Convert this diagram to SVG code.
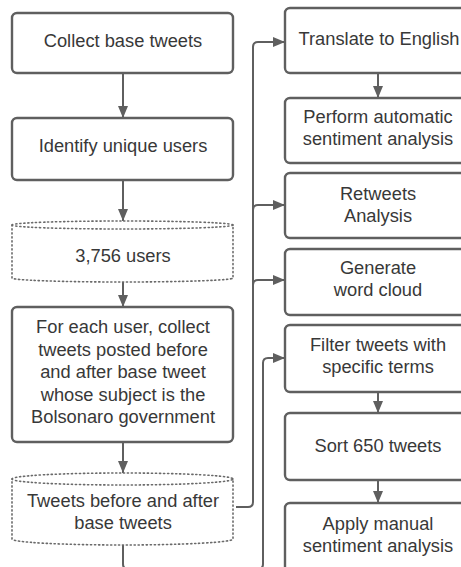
<svg xmlns="http://www.w3.org/2000/svg" width="461" height="567" viewBox="0 0 461 567">
<defs>
<style>
.box{fill:#fff;stroke:#5f5f5f;stroke-width:2.4}
.cyl{fill:#fff;stroke:#6a6a6a;stroke-width:1.6;stroke-dasharray:1.2 2.8;stroke-linecap:round}
.t{font-family:"Liberation Sans",Arial,sans-serif;font-size:18.3px;fill:#383838;text-anchor:middle}
.c{fill:none;stroke:#5f5f5f;stroke-width:2}
</style>
<marker id="ah" viewBox="0 0 12 10" refX="12" refY="5" markerWidth="12" markerHeight="10" markerUnits="userSpaceOnUse" orient="auto">
<path d="M0,0 L12,5 L0,10 Z" fill="#5f5f5f"/>
</marker>
</defs>
<rect width="461" height="567" fill="#fff"/>
<g id="connectors">
<path class="c" d="M123,73 V118" marker-end="url(#ah)"/>
<path class="c" d="M123,180 V221" marker-end="url(#ah)"/>
<path class="c" d="M123,282 V307" marker-end="url(#ah)"/>
<path class="c" d="M123,442 V473" marker-end="url(#ah)"/>
<path class="c" d="M236,507 H248 Q253,507 253,502 V47 Q253,42 258,42 H285" marker-end="url(#ah)"/>
<path class="c" d="M253,210 Q253,205 258,205 H285" marker-end="url(#ah)"/>
<path class="c" d="M253,285 Q253,280 258,280 H285" marker-end="url(#ah)"/>
<path class="c" d="M123,545 V564 Q123,569 128,569 H258 Q263,569 263,564 V363 Q263,358 268,358 H285" marker-end="url(#ah)"/>
<path class="c" d="M378,73 V98" marker-end="url(#ah)"/>
<path class="c" d="M378,392 V413" marker-end="url(#ah)"/>
<path class="c" d="M378,480 V503" marker-end="url(#ah)"/>
</g>
<g id="collect">
<rect class="box" x="12" y="13" width="221" height="60" rx="5"/>
<text class="t" x="123" y="47">Collect base tweets</text>
</g>
<g id="identify">
<rect class="box" x="12" y="118" width="221" height="62" rx="5"/>
<text class="t" x="123" y="152">Identify unique users</text>
</g>
<g id="users">
<path class="cyl" d="M12,225 A110.5,4 0 0 1 233,225 V278 A110.5,4 0 0 1 12,278 Z"/>
<path class="cyl" d="M12,225 A110.5,4 0 0 0 233,225"/>
<text class="t" x="123" y="262">3,756 users</text>
</g>
<g id="foreach">
<rect class="box" x="12" y="307" width="221" height="135" rx="5"/>
<text class="t" x="123" y="333">For each user, collect</text>
<text class="t" x="123" y="355.5">tweets posted before</text>
<text class="t" x="123" y="378">and after base tweet</text>
<text class="t" x="123" y="400.5">whose subject is the</text>
<text class="t" x="123" y="423">Bolsonaro government</text>
</g>
<g id="tweets">
<path class="cyl" d="M12,479 A110.5,6 0 0 1 233,479 V539 A110.5,6 0 0 1 12,539 Z"/>
<path class="cyl" d="M12,479 A110.5,6 0 0 0 233,479"/>
<text class="t" x="123" y="507">Tweets before and after</text>
<text class="t" x="123" y="529">base tweets</text>
</g>
<g id="translate">
<rect class="box" x="285" y="8" width="186" height="65" rx="5"/>
<text class="t" x="379" y="45">Translate to English</text>
</g>
<g id="perform">
<rect class="box" x="285" y="98" width="186" height="65" rx="5"/>
<text class="t" x="378" y="123">Perform automatic</text>
<text class="t" x="378" y="145">sentiment analysis</text>
</g>
<g id="retweets">
<rect class="box" x="285" y="173" width="186" height="65" rx="5"/>
<text class="t" x="378" y="200">Retweets</text>
<text class="t" x="378" y="222">Analysis</text>
</g>
<g id="wordcloud">
<rect class="box" x="285" y="249" width="186" height="66" rx="5"/>
<text class="t" x="378" y="274">Generate</text>
<text class="t" x="378" y="296">word cloud</text>
</g>
<g id="filter">
<rect class="box" x="285" y="325" width="186" height="67" rx="5"/>
<text class="t" x="378" y="351">Filter tweets with</text>
<text class="t" x="378" y="373">specific terms</text>
</g>
<g id="sort">
<rect class="box" x="285" y="413" width="186" height="67" rx="5"/>
<text class="t" x="378" y="452">Sort 650 tweets</text>
</g>
<g id="apply">
<rect class="box" x="285" y="503" width="186" height="80" rx="5"/>
<text class="t" x="378" y="530">Apply manual</text>
<text class="t" x="378" y="552">sentiment analysis</text>
</g>
</svg>
